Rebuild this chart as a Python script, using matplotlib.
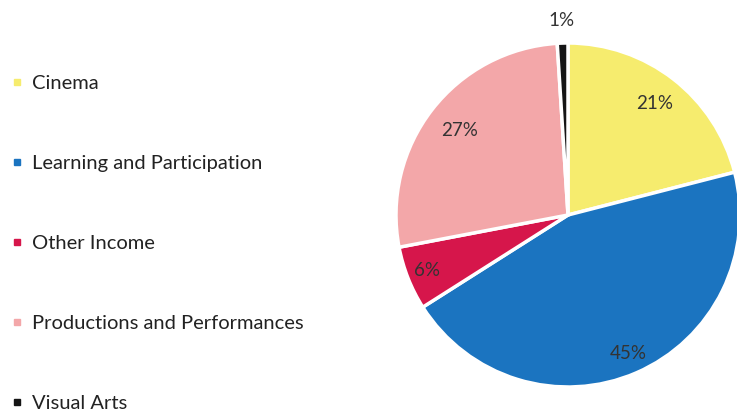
import matplotlib.pyplot as plt
import numpy as np
from matplotlib.lines import Line2D

# Inkomsten per onderdeel (percentages)
labels = ["Cinema", "Learning and Participation", "Other Income",
          "Productions and Performances", "Visual Arts"]
values = [21, 45, 6, 27, 1]
colors = ["#f6ec6e", "#1b74c0", "#d6164b", "#f3a7a9", "#151515"]

# afstand van de labels tot het midden (fractie van straal)
label_dist = [0.82, 0.88, 0.88, 0.80, 1.13]

fig = plt.figure(figsize=(7.37, 4.15), dpi=100)
ax = fig.add_axes([396 / 737, 28 / 415, 344 / 737, 344 / 415])

wedges, _ = ax.pie(values, colors=colors, startangle=90, counterclock=False,
                   radius=1, wedgeprops=dict(edgecolor="white", linewidth=2.5))
ax.set_xlim(-1, 1)
ax.set_ylim(-1, 1)

for w, v, d in zip(wedges, values, label_dist):
    ang = np.deg2rad((w.theta1 + w.theta2) / 2)
    ax.text(d * np.cos(ang), d * np.sin(ang), f"{v}%", ha="center", va="center",
            fontsize=13.5, color="#333333", family="Lato")

handles = [Line2D([], [], marker="s", linestyle="", markersize=5,
                  markerfacecolor=c, markeredgecolor=c) for c in colors]
leg = fig.legend(handles, labels, loc="upper left", bbox_to_anchor=(-0.01, 0.863),
                 frameon=False, handlelength=0.6, handletextpad=0.45,
                 labelspacing=3.12, prop=dict(family="Lato", size=14.5))
for t in leg.get_texts():
    t.set_color("#222222")

fig.savefig("out.png", dpi=100)
